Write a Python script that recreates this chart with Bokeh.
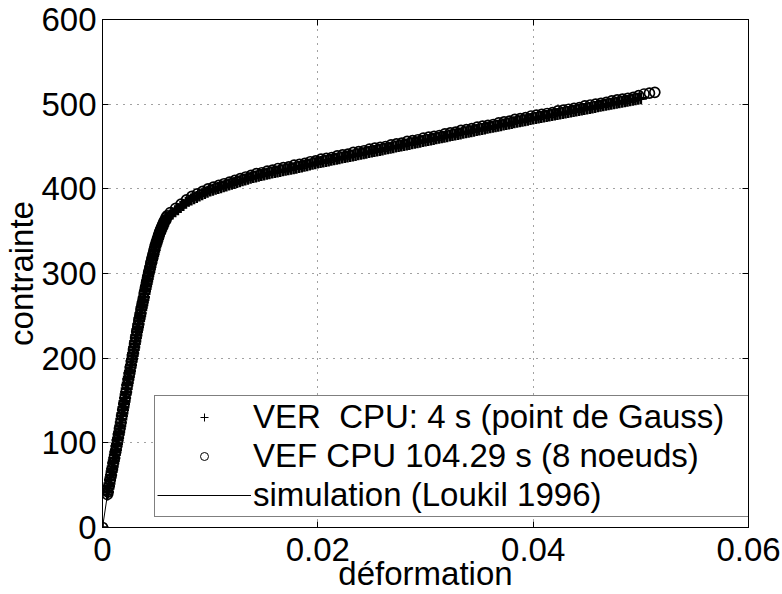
from bokeh.plotting import figure
from bokeh.models import (Legend, LegendItem, LinearAxis, FixedTicker, Range1d,
                          CustomJSTickFormatter)
from bokeh.embed import file_html
from bokeh.resources import INLINE

# ---------------- data ----------------
X_TICKS = [0, 0.02, 0.04, 0.06]
X_TICK_LABELS = ["0", "0.02", "0.04", "0.06"]
Y_TICKS = [0, 100, 200, 300, 400, 500, 600]
Y_TICK_LABELS = ["0", "100", "200", "300", "400", "500", "600"]

X_LABEL = "déformation"
Y_LABEL = "contrainte"

LABEL_VER = "VER  CPU: 4 s (point de Gauss)"
LABEL_VEF = "VEF CPU 104.29 s (8 noeuds)"
LABEL_SIM = "simulation (Loukil 1996)"

# VER (point de Gauss): strain in units of 1e-4, stress
VER_STRAIN_E4 = [
    0, 4.5,
    5, 5.5, 6, 6.5, 7, 7.5, 8, 8.5, 9, 9.5, 10, 10.5, 11, 11.5, 12, 12.5, 13, 13.5,
    14, 14.5, 15, 15.5, 16, 16.5, 17, 17.5, 18, 18.5, 19, 19.5, 20, 20.5, 21, 21.5,
    22, 22.5, 23, 23.5, 24, 24.5, 25, 25.5, 26, 26.5, 27, 27.5, 28, 28.5, 29, 29.5,
    30, 30.5, 31, 31.5, 32, 32.5, 33, 33.5, 34, 34.5, 35, 35.5, 36, 36.5, 37, 37.5,
    38, 38.5, 39, 39.5, 40, 40.5, 41, 41.5, 42, 42.5, 43, 43.5, 44, 44.5, 45, 45.5,
    46, 46.5, 47, 47.5, 48, 48.5, 49, 49.5, 50, 50.5, 51, 51.5, 52, 52.5, 53, 53.5,
    54, 54.5, 55, 55.5, 56, 56.5, 57, 57.5, 58, 58.5, 59, 59.5, 60,
    62.5, 65, 67.5, 70, 72.5, 75, 77.5, 80, 82.5, 85, 87.5, 90, 92.5, 95, 97.5, 100,
    102.5, 105, 107.5, 110, 112.5, 115, 117.5, 120, 122.5, 125, 127.5, 130, 132.5, 135,
    137.5, 140, 142.5, 145, 147.5, 150, 152.5, 155, 157.5, 160, 162.5, 165, 167.5, 170,
    172.5, 175, 177.5, 180, 182.5, 185, 187.5, 190, 192.5, 195, 197.5, 200,
    202.5, 205, 207.5, 210, 212.5, 215, 217.5, 220, 222.5, 225, 227.5, 230, 232.5, 235,
    237.5, 240, 242.5, 245, 247.5, 250, 252.5, 255, 257.5, 260, 262.5, 265, 267.5, 270,
    272.5, 275, 277.5, 280, 282.5, 285, 287.5, 290, 292.5, 295, 297.5, 300, 302.5, 305,
    307.5, 310, 312.5, 315, 317.5, 320, 322.5, 325, 327.5, 330, 332.5, 335, 337.5, 340,
    342.5, 345, 347.5, 350,
    352.5, 355, 357.5, 360, 362.5, 365, 367.5, 370, 372.5, 375, 377.5, 380, 382.5, 385,
    387.5, 390, 392.5, 395, 397.5, 400, 402.5, 405, 407.5, 410, 412.5, 415, 417.5, 420,
    422.5, 425, 427.5, 430, 432.5, 435, 437.5, 440, 442.5, 445, 447.5, 450, 452.5, 455,
    457.5, 460, 462.5, 465, 467.5, 470, 472.5, 475, 477.5, 480, 482.5, 485, 487.5, 490,
    492.5, 495, 497.5, 500]
VER_STRESS = [
    0, 39,
    42, 46, 49, 52, 56, 59, 62, 66, 69, 72, 76, 79, 82, 86, 89, 92, 96, 99,
    103, 106, 110, 113, 117, 120, 124, 128, 132, 135, 139, 142, 146, 149, 153, 157,
    160, 164, 168, 171, 175, 178, 182, 185, 189, 192, 196, 199, 203, 206, 210, 213,
    217, 220, 224, 227, 231, 234, 237, 240, 244, 247, 250, 253, 257, 260, 263, 266,
    269, 272, 276, 279, 282, 285, 288, 291, 294, 297, 300, 302, 305, 308, 311, 313,
    316, 318, 321, 323, 326, 328, 331, 333, 335, 337, 339, 341, 343, 345, 347, 348,
    350, 351, 353, 354, 356, 357, 359, 360, 361, 362, 364, 365, 366,
    368.5, 371, 373.5, 376, 378.5, 381, 383.5, 386, 387.5, 389, 390.5, 392, 393.5, 395, 396.5, 398,
    399, 400, 401, 402, 403, 404, 405, 406, 407, 408, 409, 410, 411, 412,
    413, 414, 414.7, 415.5, 416.2, 417, 417.7, 418.5, 419.2, 420, 420.6, 421.2, 421.9, 422.5,
    423.1, 423.8, 424.4, 425, 425.7, 426.5, 427.2, 428, 428.7, 429.5, 430.2, 431,
    431.7, 432.3, 433, 433.6, 434.3, 434.9, 435.6, 436.2, 436.9, 437.5, 438.2, 438.8, 439.5, 440.1,
    440.8, 441.4, 442.1, 442.7, 443.4, 444, 444.7, 445.3, 446, 446.6, 447.3, 447.9, 448.6, 449.2,
    449.9, 450.5, 451.2, 451.8, 452.5, 453.1, 453.8, 454.4, 455.1, 455.7, 456.4, 457, 457.7, 458.3,
    459, 459.6, 460.3, 460.9, 461.6, 462.2, 462.9, 463.5, 464.2, 464.8, 465.5, 466.1, 466.8, 467.4,
    468.1, 468.7, 469.4, 470,
    470.7, 471.3, 472, 472.6, 473.3, 473.9, 474.6, 475.2, 475.9, 476.5, 477.2, 477.8, 478.5, 479.1,
    479.8, 480.4, 481.1, 481.7, 482.4, 483, 483.6, 484.2, 484.8, 485.4, 486, 486.6, 487.2, 487.8,
    488.4, 489, 489.6, 490.2, 490.8, 491.4, 492, 492.6, 493.2, 493.8, 494.4, 495, 495.6, 496.2,
    496.8, 497.4, 498, 498.6, 499.2, 499.8, 500.4, 501, 501.6, 502.2, 502.8, 503.4, 504, 504.6,
    505.2, 505.8, 506.4, 507]

# VEF (8 noeuds): strain in units of 1e-4, stress
VEF_STRAIN_E4 = [
    0, 4.5,
    5, 6, 7, 8, 9, 10, 11, 12, 13, 14, 15, 16, 17, 18, 19, 20, 21, 22, 23, 24, 25, 26, 27, 28,
    29, 30, 31, 32, 33, 34, 35, 36, 37, 38, 39, 40, 41, 42, 43, 44, 45, 46, 47, 48, 49, 50,
    51, 52, 53, 54, 55, 56, 57, 58, 59, 60,
    63, 68, 73, 78, 83, 88, 93, 98, 103, 108,
    113, 118, 123, 128, 133, 138, 143, 148, 153, 158,
    163, 168, 173, 178, 183, 188, 193, 198, 203, 208,
    213, 218, 223, 228, 233, 238, 243, 248, 253, 258,
    263, 268, 273, 278, 283, 288, 293, 298, 303, 308,
    313, 318, 323, 328, 333, 338, 343, 348, 353, 358,
    363, 368, 373, 378, 383, 388, 393, 398, 403, 408,
    413, 418, 423, 428, 433, 438, 443, 448, 453, 458,
    463, 468, 473, 478, 483, 488, 493, 498, 503, 508, 513]
VEF_STRESS = [
    0, 39,
    42, 49, 56, 62, 69, 76, 82, 89, 96, 103, 110, 117, 124, 132, 139, 146, 153, 160, 168, 175,
    182, 190, 197, 204, 211, 218, 225, 232, 239, 246, 252, 259, 265, 271, 278, 284, 290, 296,
    302, 307, 313, 318, 323, 328, 333, 337, 341, 345, 349, 352, 355, 358, 361, 363, 366, 368,
    372, 377, 382, 387, 391, 394, 397, 400, 402, 404,
    406, 408, 410, 412, 414, 416, 418, 419, 421, 422,
    424, 425, 426, 428, 429, 430, 432, 433, 435, 436,
    437, 439, 440, 441, 443, 444, 445, 447, 448, 449,
    450, 452, 453, 454, 456, 457, 458, 460, 461, 462,
    463, 465, 466, 467, 469, 470, 471, 473, 474, 475,
    476, 478, 479, 480, 482, 483, 484, 486, 487, 488,
    489, 490, 492, 493, 494, 495, 496, 498, 499, 500,
    501, 502, 504, 505, 506, 507, 508, 510, 512, 513, 514]

# simulation (Loukil 1996)
SIM_STRAIN = [0, 0.0005, 0.001, 0.0015, 0.002, 0.0025, 0.003, 0.0035, 0.004, 0.0045, 0.005,
              0.0055, 0.006, 0.007, 0.008, 0.009, 0.010, 0.012, 0.014, 0.016, 0.018, 0.020,
              0.025, 0.030, 0.035, 0.040, 0.045, 0.050]
SIM_STRESS = [0, 42, 76, 110, 146, 182, 217, 250, 282, 311, 335,
              353, 366, 376, 386, 392, 398, 406, 414, 420, 425, 431,
              444, 457, 470, 483, 495, 507]

ver_x = [v * 1e-4 for v in VER_STRAIN_E4]
vef_x = [v * 1e-4 for v in VEF_STRAIN_E4]

# ---------------- figure ----------------
FONT = "Liberation Sans"
FS = "33px"

p = figure(width=782, height=594, output_backend="svg", toolbar_location=None,
           x_range=Range1d(X_TICKS[0], X_TICKS[-1]),
           y_range=Range1d(Y_TICKS[0], Y_TICKS[-1]),
           min_border_left=102, min_border_right=34, min_border_top=19, min_border_bottom=66,
           background_fill_color="white", border_fill_color="white")

p.outline_line_color = "black"
p.outline_line_width = 1

# grid
p.xgrid.ticker = FixedTicker(ticks=X_TICKS)
p.ygrid.ticker = FixedTicker(ticks=Y_TICKS)
for g in (p.xgrid, p.ygrid):
    g.grid_line_color = "#444444"
    g.grid_line_dash = "1 6"
    g.grid_line_width = 1

# main axes
xa = p.xaxis[0]
ya = p.yaxis[0]
xa.ticker = FixedTicker(ticks=X_TICKS)
ya.ticker = FixedTicker(ticks=Y_TICKS)
xa.major_label_overrides = dict(zip(X_TICKS, X_TICK_LABELS))
ya.major_label_overrides = dict(zip(Y_TICKS, Y_TICK_LABELS))
xa.axis_label = X_LABEL
ya.axis_label = Y_LABEL
for ax in (xa, ya):
    ax.major_label_text_font = FONT
    ax.major_label_text_font_size = FS
    ax.major_label_text_color = "black"
    ax.axis_label_text_font = FONT
    ax.axis_label_text_font_size = FS
    ax.axis_label_text_font_style = "normal"
    ax.axis_label_text_color = "black"
    ax.major_tick_in = 6
    ax.major_tick_out = 0
    ax.minor_tick_line_color = None
    ax.axis_line_color = "black"
    ax.major_tick_line_color = "black"
xa.major_label_standoff = 10
xa.axis_label_standoff = -9
ya.major_label_standoff = 6
ya.axis_label_standoff = -2

# box axes (top / right) with inward ticks only
blank = CustomJSTickFormatter(code="return ''")
top = LinearAxis(ticker=FixedTicker(ticks=X_TICKS), formatter=blank,
                 major_tick_in=6, major_tick_out=0, minor_tick_line_color=None,
                 axis_line_color="black", major_label_standoff=0)
right = LinearAxis(ticker=FixedTicker(ticks=Y_TICKS), formatter=blank,
                   major_tick_in=6, major_tick_out=0, minor_tick_line_color=None,
                   axis_line_color="black", major_label_standoff=0)
p.add_layout(top, "above")
p.add_layout(right, "right")

# data (dense markers form the thick black band)
sim = p.line(SIM_STRAIN, SIM_STRESS, line_color="black", line_width=1)
vef = p.scatter(vef_x, VEF_STRESS, marker="circle", size=10, line_color="black",
                fill_color=None, line_width=1.7)
ver = p.scatter(ver_x, VER_STRESS, marker="cross", size=12, line_color="black",
                line_width=2.6)

# legend keys in the reference's thin key style (no visible data point)
NAN = float("nan")
ver_key = p.scatter([NAN], [NAN], marker="cross", size=10, line_color="black", line_width=1)
vef_key = p.scatter([NAN], [NAN], marker="circle", size=9, line_color="black",
                    fill_color=None, line_width=1)

legend = Legend(items=[LegendItem(label=LABEL_VER, renderers=[ver_key]),
                       LegendItem(label=LABEL_VEF, renderers=[vef_key]),
                       LegendItem(label=LABEL_SIM, renderers=[sim])],
                location=(52, 10), padding=2, spacing=1, margin=0,
                label_height=38, glyph_height=20, glyph_width=94,
                label_standoff=2, label_width=560,
                label_text_font=FONT, label_text_font_size=FS, label_text_color="black",
                border_line_color="black", border_line_width=1.2,
                background_fill_color="white", background_fill_alpha=1)
p.add_layout(legend)

open("out.html", "w").write(file_html(p, INLINE))
